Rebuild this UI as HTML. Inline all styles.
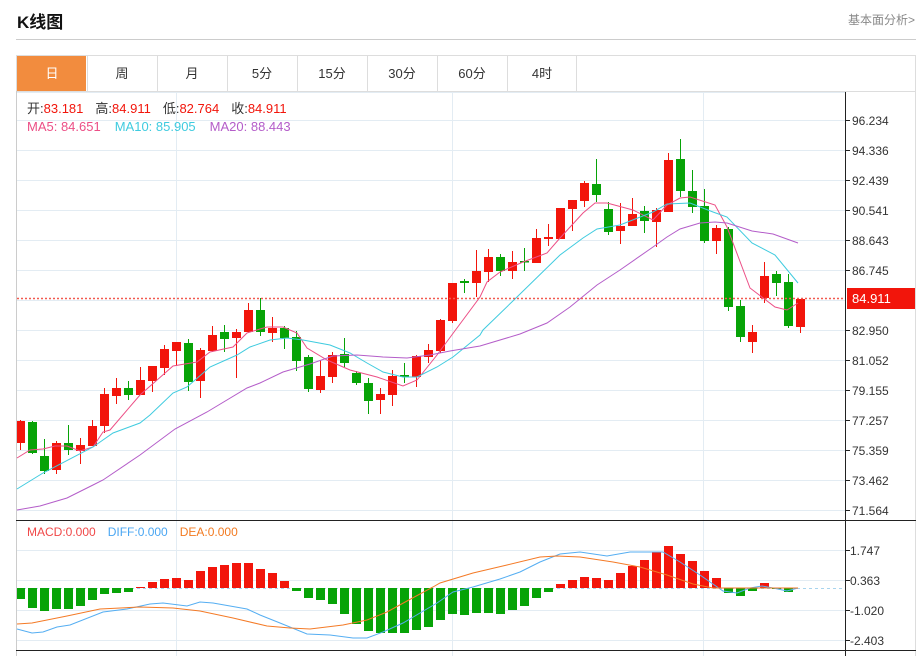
<!DOCTYPE html>
<html><head><meta charset="utf-8"><style>
body{margin:0;background:#fff;width:924px;height:656px;overflow:hidden;font-family:"Liberation Sans","Noto Sans CJK SC",sans-serif}
.t{position:absolute}
</style></head><body>
<div class="t" style="left:17px;top:8px;font-size:17px;font-weight:bold;color:#111">K线图</div>
<div class="t" style="left:848px;top:11px;font-size:12px;color:#888">基本面分析&gt;</div>
<div class="t" style="left:16px;top:39px;width:900px;height:1px;background:#ccc"></div>
<svg class="t" style="left:0;top:0" width="924" height="656" xmlns="http://www.w3.org/2000/svg" font-family="Liberation Sans, Noto Sans CJK SC, sans-serif">
<g id="tabs"></g>
<g id="grid"></g>
<g id="c"></g>
</svg>
<script>
var NS="http://www.w3.org/2000/svg",s="";
function L(x1,y1,x2,y2,c,w,d){s+='<line x1="'+x1+'" y1="'+y1+'" x2="'+x2+'" y2="'+y2+'" stroke="'+c+'" stroke-width="'+(w||1)+'"'+(d?' stroke-dasharray="'+d+'"':'')+'/>';}
function T(x,y,t,c,sz,a,fw){s+='<text x="'+x+'" y="'+y+'" fill="'+c+'" font-size="'+(sz||12)+'"'+(a?' text-anchor="'+a+'"':'')+(fw?' font-weight="'+fw+'"':'')+'>'+t+'</text>';}
function P(pts,c,w){s+='<polyline fill="none" stroke="'+c+'" stroke-width="'+(w||1)+'" points="'+pts+'"/>';}
// tabs
s+='<rect x="16.5" y="55.5" width="899" height="36" fill="#fff" stroke="#ddd"/>';
var tabs=["日","周","月","5分","15分","30分","60分","4时"];
for(var i=0;i<8;i++){var x=17+70*i;
 if(i==0)s+='<rect x="17" y="56" width="69" height="35" fill="#f28c3e"/>';
 else L(x+0.5,56,x+0.5,91,"#ddd");
 T(x+35,78,tabs[i],i==0?"#fff":"#333",13,"middle");}
L(576.5,56,576.5,91,"#ddd");
// grid
L(16.5,91,16.5,656,"#ccc");L(915.5,91,915.5,656,"#ddd");
for(var k=0;k<14;k++){var y=120+30*k+0.5;L(17,y,845,y,"#e3ecf3");}
L(17,92.5,845,92.5,"#e3ecf3");
[550,580,610,640].forEach(function(y){L(17,y+0.5,845,y+0.5,"#e3ecf3");});
[176,452,703].forEach(function(x){L(x+0.5,92,x+0.5,656,"#e3ecf3");});
L(845.5,92,845.5,656,"#222");
L(16,520.5,916,520.5,"#222");L(16,650.5,916,650.5,"#222");
var lab=["96.234","94.336","92.439","90.541","88.643","86.745","","82.950","81.052","79.155","77.257","75.359","73.462","71.564"];
for(k=0;k<14;k++){if(!lab[k])continue;var y=120+30*k;L(845,y+0.5,850,y+0.5,"#222");T(852,y+5,lab[k],"#333",12);}
[["1.747",550],["0.363",580],["-1.020",610],["-2.403",640]].forEach(function(a){L(845,a[1]+0.5,850,a[1]+0.5,"#222");T(850,a[1]+5,a[0],"#333",12);});
// candles: wt,wb,bt,bb,color
var C=[[420,450,421,443,1],[421,454,422,453,0],[439,474,456,471,0],[441,474,443,470,1],[425,455,443,450,0],[438,464,445,451,1],[420,446,426,446,1],[388,433,394,426,1],[378,404,388,396,1],[381,400,388,395,0],
[367,395,380,395,1],[366,392,366,381,1],[345,375,349,368,1],[342,366,342,351,1],[339,391,343,382,0],[348,398,350,381,1],[326,352,335,351,1],[325,352,332,339,0],[329,378,332,338,1],[303,332,310,332,1],
[298,336,310,332,0],[317,342,328,333,1],[326,349,328,338,0],[331,371,337,361,0],[355,392,357,389,0],[360,393,376,390,1],[352,383,355,377,1],[338,367,354,363,0],[371,385,373,383,0],[378,414,383,401,0],
[388,414,394,400,1],[370,406,376,395,1],[363,383,375,377,0],[355,387,356,377,1],[344,363,350,357,1],[319,353,320,351,1],[283,323,283,321,1],[279,293,281,283,0],[250,297,271,283,1],[249,282,257,272,1],
[254,276,257,271,0],[251,279,262,271,1],[248,271,261,262,0],[229,263,238,263,1],[224,246,237,239,1],[208,239,208,239,1],[200,231,200,209,1],[181,207,183,201,1],[159,202,184,195,0],[202,235,209,232,0],
[203,244,226,231,1],[198,226,214,226,1],[206,233,211,221,0],[208,247,210,222,1],[153,212,160,212,1],[139,197,159,191,0],[170,213,191,207,0],[189,243,206,241,0],[225,254,228,241,1],[227,311,229,307,0],
[300,342,306,337,0],[325,353,332,342,1],[262,303,276,298,1],[271,296,274,283,0],[274,328,282,326,0],[299,333,299,327,1]];
var R="#f2150b",G="#07a307";
C.forEach(function(c,i){var x=20+12*i,col=c[4]?R:G;
 L(x+0.5,c[0],x+0.5,c[1],col,1);
 var bx=Math.max(x-4,17),bw=x+5-bx;
 s+='<rect x="'+bx+'" y="'+c[2]+'" width="'+bw+'" height="'+Math.max(c[3]-c[2],1.5)+'" fill="'+col+'"/>';});
P("17,458 30,450 43,449 55,446 67,446 80,451 93,447 103,432 110,430 140,395 173,366 197,362 210,352 233,347 247,333 260,329 267,327 283,327 297,333 307,348 327,360 350,370 377,377 403,386 417,380 437,355 457,328 480,297 487,282 500,272 523,262 547,253 560,238 583,213 595,203 607,203 633,210 653,220 667,205 680,198 690,197 715,205 727,227 750,288 775,307 787,310 798,303","#ec4f86");
P("17,489 43,473 93,447 113,433 140,423 150,415 173,393 187,387 210,367 237,355 250,347 270,340 287,338 303,340 330,345 350,353 367,363 383,372 403,377 417,377 437,367 453,357 480,335 483,330 517,297 560,255 583,238 597,229 620,225 653,212 667,204 690,203 713,212 727,217 752,243 775,255 798,283","#3fcbdf");
P("17,510 40,506 67,498 93,485 103,480 140,455 175,429 207,412 247,388 260,383 283,372 310,364 333,356 357,355 383,357 407,358 430,355 450,351 480,346 520,334 547,323 570,307 597,285 620,270 653,247 667,237 680,229 700,223 715,222 727,223 752,231 773,234 798,243","#b45dc9");
// price line
L(17,298.5,845,298.5,"#f25a50",1.5,"2,2");
s+='<rect x="847" y="288" width="68" height="21" fill="#f2150b"/>';T(852,303,"84.911","#fff",13);
// legends
s+='<text x="27" y="113" font-size="13"><tspan fill="#333">开:</tspan><tspan fill="#f2150b">83.181</tspan><tspan fill="#333" dx="12">高:</tspan><tspan fill="#f2150b">84.911</tspan><tspan fill="#333" dx="12">低:</tspan><tspan fill="#f2150b">82.764</tspan><tspan fill="#333" dx="12">收:</tspan><tspan fill="#f2150b">84.911</tspan></text>';
s+='<text x="27" y="131" font-size="13"><tspan fill="#ec4f86">MA5: 84.651</tspan><tspan fill="#3fcbdf" dx="14">MA10: 85.905</tspan><tspan fill="#b45dc9" dx="14">MA20: 88.443</tspan></text>';
s+='<text x="27" y="536" font-size="12"><tspan fill="#f04848">MACD:0.000</tspan><tspan fill="#4aa6f2" dx="12">DIFF:0.000</tspan><tspan fill="#f27a20" dx="12">DEA:0.000</tspan></text>';
// macd bars
var M=[599,608,611,609,609,606,600,594,593,592,587,582,579,578,580,571,567,565,563,563,569,573,581,591,598,600,604,614,624,631,633,633,633,630,627,620,614,615,613,613,614,610,606,598,592,584,580,577,578,580,573,566,560,552,546,554,561,571,578,593,596,591,583,589,592,588];
L(17,588.5,845,588.5,"#a8d4ee",1,"3,3");
M.forEach(function(y,i){var x=20+12*i,bx=Math.max(x-4,17),bw=x+5-bx;
 var t=Math.min(y,588),h=Math.abs(y-588);if(h<1)return;
 s+='<rect x="'+bx+'" y="'+t+'" width="'+bw+'" height="'+h+'" fill="'+(y<588?R:G)+'"/>';});
P("17,629 32,633 43,632 57,627 70,625 103,612 127,609 150,604 163,603 187,606 200,602 213,603 247,609 260,615 280,623 307,634 330,635 353,638 367,638 383,632 403,623 420,613 437,603 453,592 473,587 500,579 520,572 540,562 560,554 580,552 607,556 630,552 663,552 680,562 700,575 723,591 737,593 750,588 762,586 773,588 787,591 798,588","#55aef2");
P("17,624 32,623 67,616 100,609 140,607 173,608 200,611 233,618 267,626 290,628 310,629 343,625 367,620 387,612 407,601 433,587 440,583 473,573 507,565 540,557 557,556 580,557 613,562 640,567 667,575 693,584 713,588 740,588 798,588","#f47a26");
document.querySelector("svg").insertAdjacentHTML("beforeend",s);
</script>
</body></html>
